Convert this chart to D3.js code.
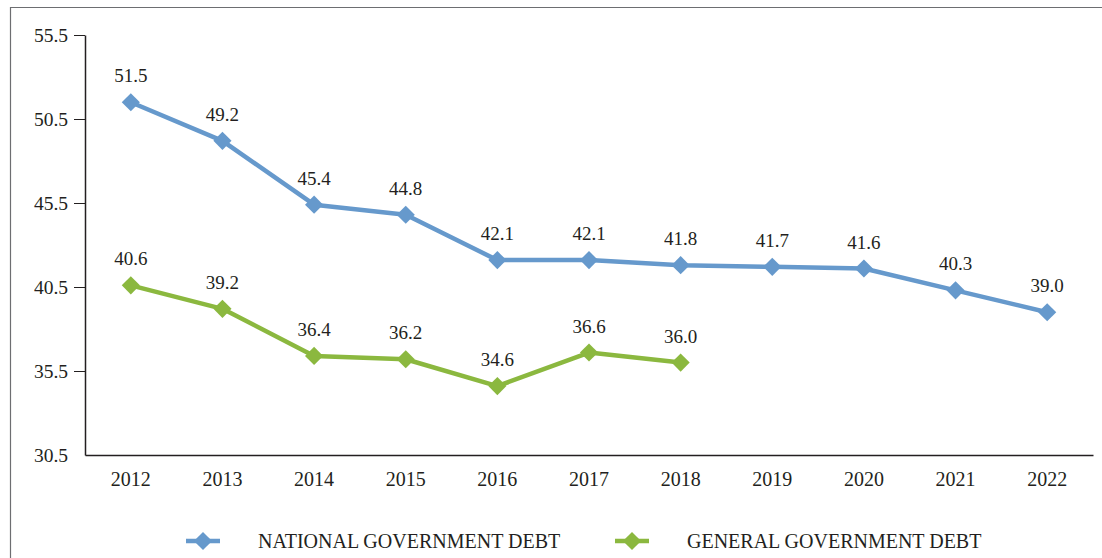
<!DOCTYPE html>
<html>
<head>
<meta charset="utf-8">
<script src="https://cdn.jsdelivr.net/npm/d3@7"></script>
<style>
  body { margin: 0; background: #fff; }
  svg { display: block; }
  svg text { font-family: "Liberation Serif", "DejaVu Serif", serif; }
</style>
</head>
<body>
<div id="chart"></div>
<script>
// chart data
const years = ["2012", "2013", "2014", "2015", "2016", "2017", "2018", "2019", "2020", "2021", "2022"];
const nationalDebt = [51.5, 49.2, 45.4, 44.8, 42.1, 42.1, 41.8, 41.7, 41.6, 40.3, 39.0];
const generalDebt = [40.6, 39.2, 36.4, 36.2, 34.6, 36.6, 36.0];
const yTicks = [30.5, 35.5, 40.5, 45.5, 50.5, 55.5];
const seriesNames = ["NATIONAL GOVERNMENT DEBT", "GENERAL GOVERNMENT DEBT"];

const width = 1102, height = 558;
const margin = { top: 35, right: 9, bottom: 103, left: 85 };
const textColor = "#231f20";
const colors = ["#6699cc", "#8bb83f"];

const svg = d3.select("#chart").append("svg")
    .attr("width", width)
    .attr("height", height);

// outer frame (runs off the right and bottom edges)
svg.append("path")
    .attr("d", `M10.5,${height + 5} V7.5 H${width + 5}`)
    .attr("fill", "none")
    .attr("stroke", "#6d6e71")
    .attr("stroke-width", 1.2);

const x = d3.scaleBand()
    .domain(years)
    .range([margin.left, width - margin.right]);

const y = d3.scaleLinear()
    .domain([30.5, 55.5])
    .range([height - margin.bottom, margin.top]);

// y axis
svg.append("g")
    .attr("transform", `translate(${margin.left},0)`)
    .call(d3.axisLeft(y).tickValues(yTicks).tickFormat(d3.format(".1f")).tickSize(11).tickSizeOuter(0).tickPadding(6))
    .call(g => g.attr("font-family", null).attr("font-size", null))
    .call(g => g.select(".domain").attr("stroke", textColor).attr("stroke-width", 1.5))
    .call(g => g.selectAll(".tick line").attr("stroke", textColor).attr("stroke-width", 1)
        .filter(d => d === 30.5).remove())
    .call(g => g.selectAll(".tick text")
        .attr("fill", textColor)
        .attr("font-size", 19.5)
        .attr("dy", "0.32em"));

// x axis
svg.append("g")
    .attr("transform", `translate(0,${height - margin.bottom})`)
    .call(d3.axisBottom(x).tickSize(0).tickPadding(17))
    .call(g => g.attr("font-family", null).attr("font-size", null))
    .call(g => g.select(".domain").attr("stroke", textColor).attr("stroke-width", 1.5))
    .call(g => g.selectAll(".tick text")
        .attr("fill", textColor)
        .attr("font-size", 20));

const diamond = d3.symbol().type(d3.symbolDiamond2).size(210);

function drawSeries(values, color) {
    const pts = values.map((v, i) => ({ year: years[i], value: v }));
    const cx = d => x(d.year) + x.bandwidth() / 2;

    svg.append("path")
        .datum(pts)
        .attr("fill", "none")
        .attr("stroke", color)
        .attr("stroke-width", 4.5)
        .attr("stroke-linejoin", "round")
        .attr("d", d3.line().x(cx).y(d => y(d.value)));

    svg.append("g")
        .selectAll("path")
        .data(pts)
        .join("path")
        .attr("transform", d => `translate(${cx(d)},${y(d.value)})`)
        .attr("d", diamond)
        .attr("fill", color);

    svg.append("g")
        .selectAll("text")
        .data(pts)
        .join("text")
        .attr("x", cx)
        .attr("y", d => y(d.value) - 20)
        .attr("text-anchor", "middle")
        .attr("font-size", 19)
        .attr("fill", textColor)
        .text(d => d.value.toFixed(1));
}

drawSeries(nationalDebt, colors[0]);
drawSeries(generalDebt, colors[1]);

// legend
const legendX = [203, 632];
const legend = svg.append("g")
    .selectAll("g")
    .data(seriesNames)
    .join("g")
    .attr("transform", (d, i) => `translate(${legendX[i]},541)`);

legend.append("line")
    .attr("x1", -17).attr("x2", 17)
    .attr("stroke", (d, i) => colors[i])
    .attr("stroke-width", 4.5);

legend.append("path")
    .attr("d", diamond)
    .attr("fill", (d, i) => colors[i]);

legend.append("text")
    .attr("x", 55)
    .attr("dy", "0.35em")
    .attr("font-size", 20)
    .attr("fill", textColor)
    .text(d => d);
</script>
</body>
</html>
